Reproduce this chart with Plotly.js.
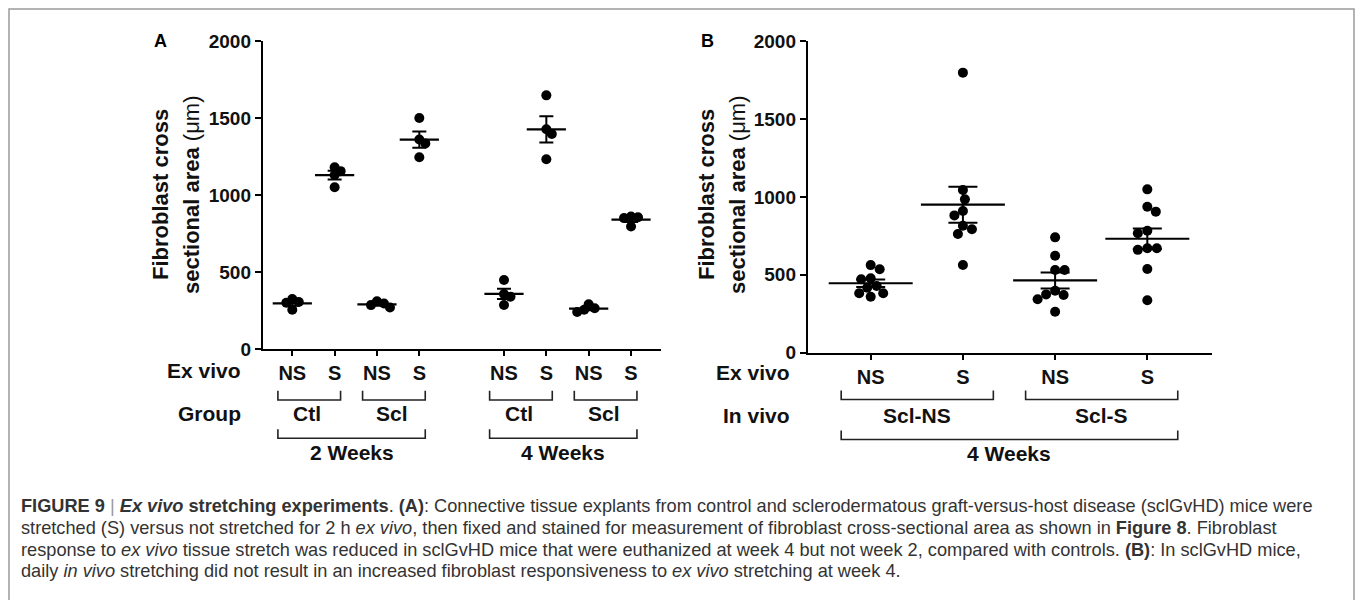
<!DOCTYPE html>
<html>
<head>
<meta charset="utf-8">
<script src="https://cdn.plot.ly/plotly-3.0.1.min.js"></script>
<style>
html,body{margin:0;padding:0;background:#fff;}
#chart{width:1357px;height:600px;}
</style>
</head>
<body>
<div id="chart"></div>
<script>
// ---------------- DATA ----------------
// Panel A: fibroblast cross sectional area, 4 explants per condition
const exVivoLabels = ['NS', 'S'];
const groupLabelsA = ['Ctl', 'Scl'];
const weekLabelsA = ['2 Weeks', '4 Weeks'];

const a2wCtlNS = [300, 255, 325, 305];
const a2wCtlS  = [1180, 1050, 1130, 1155];
const a2wSclNS = [270, 310, 285, 295];
const a2wSclS  = [1500, 1245, 1360, 1335];
const a4wCtlNS = [448, 357, 340, 286];
const a4wCtlS  = [1647, 1427, 1396, 1232];
const a4wSclNS = [240, 290, 265, 255];
const a4wSclS  = [855, 860, 795, 850];

// Panel B: 4 weeks, in vivo Scl-NS / Scl-S, ex vivo NS / S
const inVivoLabelsB = ['Scl-NS', 'Scl-S'];
const weekLabelB = '4 Weeks';
const bSclNS_NS = [562, 535, 428, 477, 471, 381, 359, 381, 417];
const bSclNS_S  = [1797, 1044, 984, 909, 881, 792, 762, 815, 563];
const bSclS_NS  = [740, 622, 531, 531, 398, 370, 374, 343, 263];
const bSclS_S   = [1048, 905, 937, 783, 766, 670, 660, 670, 537, 336];

const yTicks = [0, 500, 1000, 1500, 2000];

// ---------------- LAYOUT HELPERS ----------------
const W = 1357, H = 600;
const px = x => x / W;
const py = y => (H - y) / H;
const FONT = 'Liberation Sans, Arial, Helvetica, sans-serif';

// panel geometry (pixels)
const A = {x0: 263, x1: 661, yTop: 41, yBot: 349, range: [-0.692, 8.708]};
const B = {x0: 808, x1: 1211.5, yTop: 41, yBot: 352.7, range: [-0.68, 3.696]};

function mean(v){ return v.reduce((s,a)=>s+a,0)/v.length; }
function sem(v){ const m = mean(v); const s = Math.sqrt(v.reduce((t,a)=>t+(a-m)*(a-m),0)/(v.length-1)); return s/Math.sqrt(v.length); }

// beeswarm: horizontal pixel offsets so dots do not pile up
function swarm(vals, pxPerY, minDist){
  const order = vals.map((v,i)=>i).sort((a,b)=>vals[b]-vals[a]);
  const placed = [], off = new Array(vals.length).fill(0);
  let side = 1;
  order.forEach(i => {
    const y = vals[i]*pxPerY;
    let chosen = null;
    for (let k = 0; k < 400 && chosen === null; k++){
      const c = k === 0 ? [0] : [side*k*0.5, -side*k*0.5];
      for (const cx of c){
        if (placed.every(p => Math.hypot(p.x-cx, p.y-y) >= minDist)) { chosen = cx; break; }
      }
    }
    if (chosen !== 0) side = -Math.sign(chosen);
    off[i] = chosen; placed.push({x: chosen, y: y});
  });
  return off;
}

function buildPanel(groups, positions, P, xa, ya, dotSize, minDist, meanLen, capW){
  const pxPerX = (P.x1 - P.x0) / (P.range[1] - P.range[0]);
  const pxPerY = (P.yBot - P.yTop) / 2000;
  const dx = [], dy = [], mx = [], my = [], me = [];
  groups.forEach((vals, gi) => {
    const offs = swarm(vals, pxPerY, minDist);
    vals.forEach((v, i) => { dx.push(positions[gi] + offs[i]/pxPerX); dy.push(v); });
    mx.push(positions[gi]); my.push(mean(vals)); me.push(sem(vals));
  });
  return [
    {type:'scatter', mode:'markers', x:dx, y:dy, xaxis:xa, yaxis:ya, hoverinfo:'y',
     marker:{color:'#000', size:dotSize, line:{width:0}}, showlegend:false},
    {type:'scatter', mode:'markers', x:mx, y:my, xaxis:xa, yaxis:ya, hoverinfo:'y',
     marker:{symbol:'line-ew', size:meanLen, color:'#000', line:{color:'#000', width:2.2}},
     error_y:{type:'data', array:me, visible:true, color:'#000', thickness:2, width:capW},
     showlegend:false}
  ];
}

// positions: week*5 + group*2 + exvivo
const groupsA = [a2wCtlNS, a2wCtlS, a2wSclNS, a2wSclS, a4wCtlNS, a4wCtlS, a4wSclNS, a4wSclS];
const posA = [], tickTextA = [];
weekLabelsA.forEach((w, wi) => groupLabelsA.forEach((g, gi) => exVivoLabels.forEach((e, ei) => {
  posA.push(wi*5 + gi*2 + ei); tickTextA.push(e);
})));
const groupsB = [bSclNS_NS, bSclNS_S, bSclS_NS, bSclS_S];
const posB = [], tickTextB = [];
inVivoLabelsB.forEach((g, gi) => exVivoLabels.forEach((e, ei) => { posB.push(gi*2 + ei); tickTextB.push(e); }));

const traces = [
  ...buildPanel(groupsA, posA, A, 'x', 'y', 10, 7, 28, 7),
  ...buildPanel(groupsB, posB, B, 'x2', 'y2', 10, 9.5, 60, 14.5)
];

// ---------------- AXES ----------------
function xAxis(P, tv, tt, anchor){
  return {domain:[px(P.x0), px(P.x1)], range:P.range, anchor:anchor, tickvals:tv, ticktext:tt,
    showline:true, linewidth:2.2, linecolor:'#000', ticks:'outside', ticklen:5, tickwidth:2, tickcolor:'#000',
    showgrid:false, zeroline:false, fixedrange:true,
    tickfont:{family:FONT, size:20, color:'#111', weight:'bold'}};
}
function yAxis(P, anchor){
  return {domain:[py(P.yBot), py(P.yTop)], range:[0, 2000], anchor:anchor, tickvals:yTicks,
    ticktext:yTicks.map(String),
    showline:true, linewidth:2.2, linecolor:'#000', ticks:'outside', ticklen:6, tickwidth:2, tickcolor:'#000',
    showgrid:false, zeroline:false, fixedrange:true,
    tickfont:{family:FONT, size:19, color:'#111', weight:'bold'}};
}

// ---------------- ANNOTATIONS & BRACKETS ----------------
const ann = [], shapes = [];
function txt(x, y, text, opt){
  ann.push(Object.assign({xref:'paper', yref:'paper', x:px(x), y:py(y), text:text, showarrow:false,
    xanchor:'center', yanchor:'middle', font:{family:FONT, size:21, color:'#111'}}, opt||{}));
}
function bracket(xref, xa, xb, yTopPx, yBotPx){
  shapes.push({type:'path', xref:xref, yref:'paper',
    path:`M ${xa},${py(yTopPx)} L ${xa},${py(yBotPx)} L ${xb},${py(yBotPx)} L ${xb},${py(yTopPx)}`,
    line:{color:'#222', width:1.6}});
}
function xToPx(P, v){ return P.x0 + (v - P.range[0]) * (P.x1 - P.x0) / (P.range[1] - P.range[0]); }

// Panel A labels
txt(160, 41, '<b>A</b>', {font:{family:FONT, size:18, color:'#000'}});
txt(243, 370, '<b>Ex vivo</b>', {xanchor:'right'});
txt(243, 413, '<b>Group</b>', {xanchor:'right'});
weekLabelsA.forEach((w, wi) => {
  const first = wi*5, last = wi*5 + 3;
  groupLabelsA.forEach((g, gi) => {
    const a = wi*5 + gi*2 - 0.34, b = wi*5 + gi*2 + 1 + 0.14;
    bracket('x', a, b, 390.7, 400);
    txt(xToPx(A, (a+b)/2) - 2, 413, '<b>' + g + '</b>');
  });
  bracket('x', first - 0.34, last + 0.14, 429.3, 438.3);
  txt(xToPx(A, (first - 0.34 + last + 0.14)/2), 452, '<b>' + w + '</b>');
});
// y title A
txt(161, 195, '<b>Fibroblast cross</b>', {textangle:-90, font:{family:FONT, size:22, color:'#111'}});
txt(192, 195, '<b>sectional area</b> (μm)', {textangle:-90, font:{family:FONT, size:22, color:'#111'}});

// Panel B labels
txt(707, 41, '<b>B</b>', {font:{family:FONT, size:18, color:'#000'}});
txt(792, 372, '<b>Ex vivo</b>', {xanchor:'right'});
txt(792, 415, '<b>In vivo</b>', {xanchor:'right'});
inVivoLabelsB.forEach((g, gi) => {
  const a = gi*2 - 0.32, b = gi*2 + 1 + 0.33;
  bracket('x2', a, b, 390.5, 399.5);
  txt(xToPx(B, (a+b)/2), 415, '<b>' + g + '</b>');
});
bracket('x2', -0.32, 3.33, 430.5, 439.5);
txt(xToPx(B, 1.505), 454, '<b>' + weekLabelB + '</b>');
txt(707, 195, '<b>Fibroblast cross</b>', {textangle:-90, font:{family:FONT, size:22, color:'#111'}});
txt(738, 195, '<b>sectional area</b> (μm)', {textangle:-90, font:{family:FONT, size:22, color:'#111'}});

// Caption
const capFont = {family:FONT, size:18.2, color:'#333'};
const capLines = [
  '<b>FIGURE 9</b> <span style="color:#999">|</span> <b><i>Ex vivo</i> stretching experiments</b>. <b>(A)</b>: Connective tissue explants from control and sclerodermatous graft-versus-host disease (sclGvHD) mice were',
  'stretched (S) versus not stretched for 2 h <i>ex vivo</i>, then fixed and stained for measurement of fibroblast cross-sectional area as shown in <b>Figure 8</b>. Fibroblast',
  'response to <i>ex vivo</i> tissue stretch was reduced in sclGvHD mice that were euthanized at week 4 but not week 2, compared with controls. <b>(B)</b>: In sclGvHD mice,',
  'daily <i>in vivo</i> stretching did not result in an increased fibroblast responsiveness to <i>ex vivo</i> stretching at week 4.'
];
capLines.forEach((t, i) => txt(19, 506 + i*21.8, t, {xanchor:'left', font:capFont}));

// figure border
shapes.push({type:'rect', xref:'paper', yref:'paper', x0:px(9), x1:px(1354), y0:py(640), y1:py(9),
  line:{color:'#9a9a9a', width:1.5}, fillcolor:'rgba(0,0,0,0)', layer:'below'});

const layout = {
  width:W, height:H, margin:{l:0, r:0, t:0, b:0}, paper_bgcolor:'#fff', plot_bgcolor:'rgba(0,0,0,0)',
  font:{family:FONT, color:'#111'}, showlegend:false,
  xaxis:xAxis(A, posA, tickTextA, 'y'),
  yaxis:yAxis(A, 'x'),
  xaxis2:xAxis(B, posB, tickTextB, 'y2'),
  yaxis2:yAxis(B, 'x2'),
  annotations:ann, shapes:shapes
};

Plotly.newPlot('chart', traces, layout, {displayModeBar:false, staticPlot:true});
</script>
</body>
</html>
